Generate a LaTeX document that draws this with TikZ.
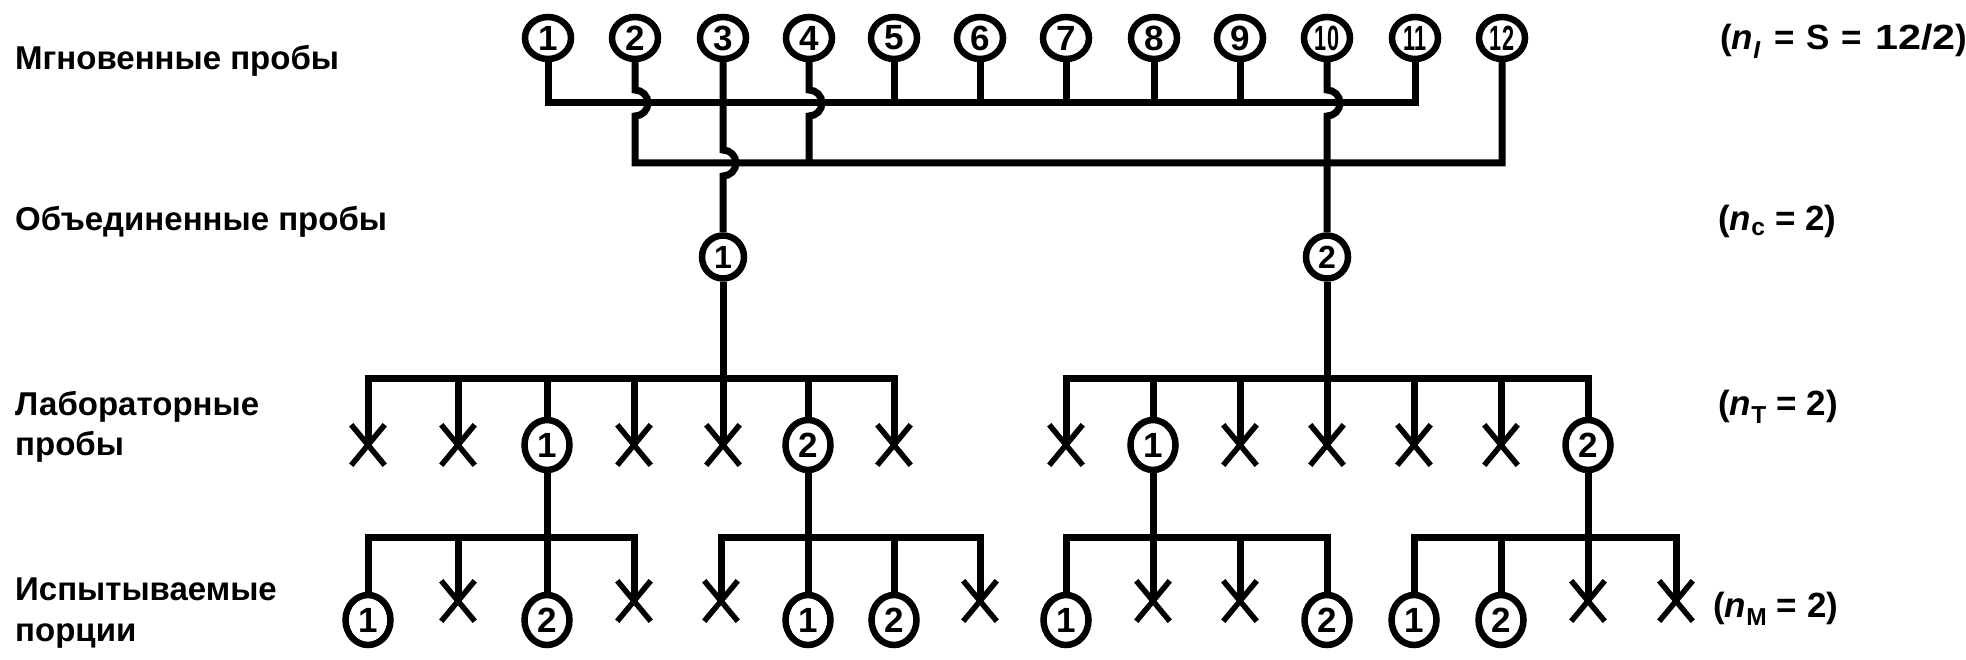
\documentclass[tikz,border=0pt]{standalone}
\usepackage{fontspec}
\usepackage{graphicx}
\setmainfont{Liberation Sans}
\usetikzlibrary{shapes.geometric,shapes.misc}
\begin{document}
\begin{tikzpicture}[x=1pt,y=-1pt,
  conn/.style={line width=7pt, line join=miter},
  ring/.style={ellipse, draw, line width=6.5pt, inner sep=0pt},
  topc/.style={ring, minimum width=46pt, minimum height=42pt, font=\fontsize{35}{35}\selectfont\bfseries},
  compc/.style={ring, minimum width=42pt, minimum height=43pt, font=\fontsize{32}{32}\selectfont\bfseries},
  lowc/.style={ring, minimum width=45pt, minimum height=50pt, font=\fontsize{35}{35}\selectfont\bfseries},
  xmark/.style={cross out, draw, line width=5.5pt, minimum width=28pt, minimum height=35pt, inner sep=0pt},
  lbl/.style={anchor=base west, inner sep=0pt, font=\fontsize{33}{40}\selectfont\bfseries},
  rlbl/.style={anchor=base west, inner sep=0pt, font=\fontsize{35}{40}\selectfont\bfseries},
]
\fill[white] (0,0) rectangle (1966,660);
\useasboundingbox (0,0) rectangle (1966,660);

% ---- top: instantaneous samples
\node[topc] (t1) at (548,38) {1};
\node[topc] (t2) at (635,38) {2};
\node[topc] (t3) at (723,38) {3};
\node[topc] (t4) at (809,38) {4};
\node[topc] (t5) at (894,38) {5};
\node[topc] (t6) at (980,38) {6};
\node[topc] (t7) at (1066,38) {7};
\node[topc] (t8) at (1154,38) {8};
\node[topc] (t9) at (1240,38) {9};
\node[topc] (t10) at (1327,38) {\scalebox{0.62}[1]{10}};
\node[topc] (t11) at (1415,38) {\scalebox{0.62}[1]{11}};
\node[topc] (t12) at (1502,38) {\scalebox{0.62}[1]{12}};

% ---- composite samples
\node[compc] (c1) at (723,257) {1};
\node[compc] (c2) at (1327,257) {2};

% ---- laboratory samples
\node[xmark] (l0) at (368,445) {};
\node[xmark] (l1) at (458,445) {};
\node[lowc] (l2) at (547,445) {1};
\node[xmark] (l3) at (634,445) {};
\node[xmark] (l4) at (723,445) {};
\node[lowc] (l5) at (808,445) {2};
\node[xmark] (l6) at (894,445) {};
\node[xmark] (l8) at (1066,445) {};
\node[lowc] (l9) at (1153,445) {1};
\node[xmark] (l10) at (1240,445) {};
\node[xmark] (l11) at (1327,445) {};
\node[xmark] (l12) at (1414,445) {};
\node[xmark] (l13) at (1501,445) {};
\node[lowc] (l14) at (1588,445) {2};

% ---- test portions
\node[lowc] (m0) at (368,620) {1};
\node[xmark] (m1) at (458,601) {};
\node[lowc] (m2) at (547,620) {2};
\node[xmark] (m3) at (634,601) {};
\node[xmark] (m4) at (721,601) {};
\node[lowc] (m5) at (808,620) {1};
\node[lowc] (m6) at (894,620) {2};
\node[xmark] (m7) at (980,601) {};
\node[lowc] (m8) at (1066,620) {1};
\node[xmark] (m9) at (1153,601) {};
\node[xmark] (m10) at (1240,601) {};
\node[lowc] (m11) at (1327,620) {2};
\node[lowc] (m12) at (1414,620) {1};
\node[lowc] (m13) at (1501,620) {2};
\node[xmark] (m14) at (1588,601) {};
\node[xmark] (m15) at (1676,601) {};

% ---- top connectors
\draw[conn] (t1.south) -- (t1.south |- 0,103) -- (t11.south |- 0,103) -- (t11.south);
\foreach \k in {5,6,7,8,9} \draw[conn] (t\k.south) -- (t\k.south |- 0,103);
\draw[conn] (t3.south) -- (t3.south |- 0,150) arc[start angle=90,end angle=-90,radius=13pt] -- (c1.north);
\draw[conn] (t2.south) -- (t2.south |- 0,90) arc[start angle=90,end angle=-90,radius=13pt]
   -- (t2.south |- 0,163) -- (t12.south |- 0,163) -- (t12.south);
\draw[conn] (t4.south) -- (t4.south |- 0,90) arc[start angle=90,end angle=-90,radius=13pt] -- (t4.south |- 0,163);
\draw[conn] (t10.south) -- (t10.south |- 0,90) arc[start angle=90,end angle=-90,radius=13pt] -- (c2.north);

% ---- laboratory connectors
\draw[conn] (c1.south) -- (l4.center);
\draw[conn] (l0.center) -- (l0.center |- 0,379) -- (l6.center |- 0,379) -- (l6.center);
\foreach \k in {1,3} \draw[conn] (l\k.center |- 0,379) -- (l\k.center);
\foreach \k in {2,5} \draw[conn] (l\k.north |- 0,379) -- (l\k.north);
\draw[conn] (c2.south) -- (l11.center);
\draw[conn] (l8.center) -- (l8.center |- 0,379) -- (l14.north |- 0,379) -- (l14.north);
\foreach \k in {10,12,13} \draw[conn] (l\k.center |- 0,379) -- (l\k.center);
\draw[conn] (l9.north |- 0,379) -- (l9.north);

% ---- test portion connectors
\draw[conn] (l2.south) -- (m2.north);
\draw[conn] (m0.north) -- (m0.north |- 0,537) -- (m3.center |- 0,537) -- (m3.center);
\draw[conn] (m1.center |- 0,537) -- (m1.center);
\draw[conn] (l5.south) -- (m5.north);
\draw[conn] (m4.center) -- (m4.center |- 0,537) -- (m7.center |- 0,537) -- (m7.center);
\draw[conn] (m6.north |- 0,537) -- (m6.north);
\draw[conn] (l9.south) -- (m9.center);
\draw[conn] (m8.north) -- (m8.north |- 0,537) -- (m11.north |- 0,537) -- (m11.north);
\draw[conn] (m10.center |- 0,537) -- (m10.center);
\draw[conn] (l14.south) -- (m14.center);
\draw[conn] (m12.north) -- (m12.north |- 0,537) -- (m15.center |- 0,537) -- (m15.center);
\draw[conn] (m13.north |- 0,537) -- (m13.north);

% ---- labels
\node[lbl] (L1) at (15,70) {Мгновенные пробы};
\node[lbl] (L2) at (15,231) {Объединенные пробы};
\node[lbl] (L3a) at (15,415) {Лабораторные};
\node[lbl] (L3b) at (15,455) {пробы};
\node[lbl] (L4a) at (15,600) {Испытываемые};
\node[lbl] (L4b) at (15,641) {порции};

\node[rlbl] (R1) at (1720,50) {(\textit{n}\textsubscript{\textit{I}}\hspace{4pt} = \hspace{2pt}S\hspace{2pt} = \hspace{3pt}\scalebox{1.18}[1]{12/2})};
\node[rlbl] (R2) at (1718,231) {(\textit{n}\textsubscript{c} = 2)};
\node[rlbl] (R3) at (1718,415) {(\textit{n}\textsubscript{T} = 2)};
\node[rlbl] (R4) at (1713,617) {(\textit{n}\textsubscript{M} = 2)};
\end{tikzpicture}
\end{document}
